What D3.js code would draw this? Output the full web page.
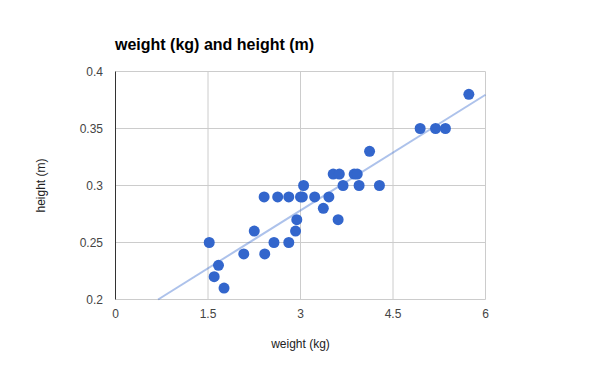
<!DOCTYPE html>
<html>
<head>
<meta charset="utf-8">
<script src="https://cdn.jsdelivr.net/npm/d3@7"></script>
<style>
  body { margin: 0; background: #fff; }
  text { font-family: "Liberation Sans", Arial, sans-serif; }
</style>
</head>
<body>
<div id="chart"></div>
<script>
const weight = [1.52, 1.60, 1.67, 1.76, 2.08, 2.25, 2.41, 2.42, 2.57, 2.63, 2.81, 2.81, 2.92, 2.94, 3.00, 3.03, 3.05,
                3.23, 3.37, 3.46, 3.53, 3.61, 3.63, 3.69, 3.87, 3.92, 3.95, 4.12, 4.28, 4.94, 5.19, 5.35, 5.73];
const height = [0.25, 0.22, 0.23, 0.21, 0.24, 0.26, 0.29, 0.24, 0.25, 0.29, 0.29, 0.25, 0.26, 0.27, 0.29, 0.29, 0.30,
                0.29, 0.28, 0.29, 0.31, 0.27, 0.31, 0.30, 0.31, 0.31, 0.30, 0.33, 0.30, 0.35, 0.35, 0.35, 0.38];
const xTicks = [0, 1.5, 3, 4.5, 6];
const yTicks = [0.2, 0.25, 0.3, 0.35, 0.4];

const data = weight.map((w, i) => ({w: w, h: height[i]}));

const svgWidth = 600, svgHeight = 371;
const margin = {left: 115.5, right: 114.5, top: 71.5, bottom: 71.5};
const innerWidth = svgWidth - margin.left - margin.right;
const innerHeight = svgHeight - margin.top - margin.bottom;

const svg = d3.select('#chart').append('svg')
    .attr('width', svgWidth).attr('height', svgHeight)
    .style('display', 'block');

const xScale = d3.scaleLinear().domain([0, 6]).range([0, innerWidth]);
const yScale = d3.scaleLinear().domain([0.2, 0.4]).range([innerHeight, 0]);

const g = svg.append('g')
    .attr('transform', `translate(${margin.left}, ${margin.top})`);

// grid
g.selectAll('.vgrid').data(xTicks.slice(1)).join('line')
    .attr('class', 'vgrid')
    .attr('x1', d => xScale(d)).attr('x2', d => xScale(d))
    .attr('y1', 0).attr('y2', innerHeight)
    .attr('stroke', '#cccccc');
g.selectAll('.hgrid').data(yTicks).join('line')
    .attr('class', 'hgrid')
    .attr('x1', 0).attr('x2', innerWidth)
    .attr('y1', d => yScale(d)).attr('y2', d => yScale(d))
    .attr('stroke', '#cccccc');

// tick labels
g.selectAll('.xlab').data(xTicks).join('text')
    .attr('class', 'xlab')
    .attr('x', d => xScale(d)).attr('y', innerHeight + 18)
    .attr('text-anchor', 'middle')
    .style('font-size', '12px').style('fill', '#444')
    .text(d => d3.format('')(d));
g.selectAll('.ylab').data(yTicks).join('text')
    .attr('class', 'ylab')
    .attr('x', -12.5).attr('y', d => yScale(d) + 4.5)
    .attr('text-anchor', 'end')
    .style('font-size', '12px').style('fill', '#444')
    .text(d => d === 0.2 || d === 0.3 || d === 0.4 ? d.toFixed(1) : d.toFixed(2));

// trendline (least squares)
const mx = d3.mean(data, d => d.w), my = d3.mean(data, d => d.h);
const slope = d3.sum(data, d => (d.w - mx) * (d.h - my)) / d3.sum(data, d => (d.w - mx) ** 2);
const icpt = my - slope * mx;
const x0 = (0.2 - icpt) / slope;
g.append('line')
    .attr('x1', xScale(x0)).attr('y1', yScale(0.2))
    .attr('x2', xScale(6)).attr('y2', yScale(icpt + slope * 6))
    .attr('stroke', '#3366cc').attr('stroke-opacity', 0.4)
    .attr('stroke-width', 2);

// baseline
g.append('line')
    .attr('x1', 0).attr('x2', 0).attr('y1', 0).attr('y2', innerHeight)
    .attr('stroke', '#333');

g.selectAll('.dot').data(data).join('circle')
    .attr('class', 'dot')
    .attr('cx', d => xScale(d.w))
    .attr('cy', d => yScale(d.h))
    .attr('r', 5.5)
    .attr('fill', '#3366cc');

svg.append('text')
    .attr('x', 115).attr('y', 50)
    .style('font-size', '16px').style('font-weight', 'bold')
    .text('weight (kg) and height (m)');

svg.append('text')
    .attr('x', margin.left + innerWidth / 2).attr('y', 348)
    .attr('text-anchor', 'middle')
    .style('font-size', '12px').style('fill', '#222')
    .text('weight (kg)');

svg.append('text')
    .attr('transform', `translate(45, ${margin.top + innerHeight / 2}) rotate(-90)`)
    .attr('text-anchor', 'middle')
    .style('font-size', '12px').style('fill', '#222')
    .text('height (m)');
</script>
</body>
</html>
